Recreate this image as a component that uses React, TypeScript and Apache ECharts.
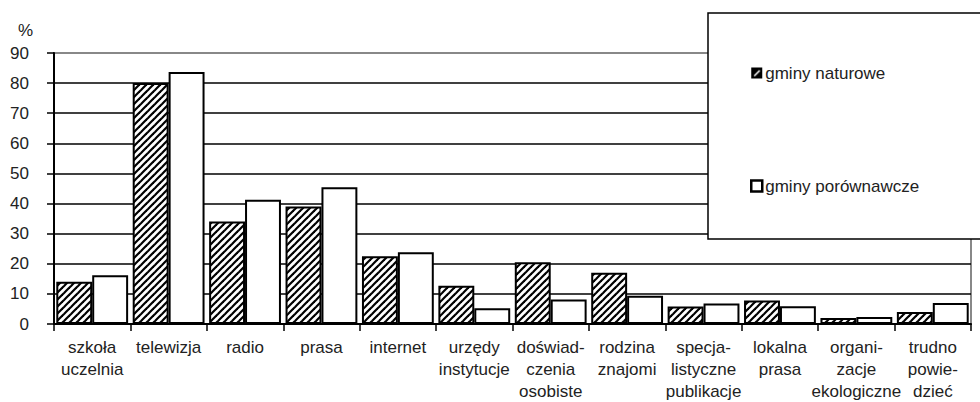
import React, { useEffect, useRef } from "react";
import * as echarts from "echarts";

const categories = [
  "szkoła\nuczelnia",
  "telewizja",
  "radio",
  "prasa",
  "internet",
  "urzędy\ninstytucje",
  "doświad-\nczenia\nosobiste",
  "rodzina\nznajomi",
  "specja-\nlistyczne\npublikacje",
  "lokalna\nprasa",
  "organi-\nzacje\nekologiczne",
  "trudno\npowie-\ndzieć",
];
const naturowe = [14, 80, 34, 39, 22.5, 12.7, 20.5, 17, 5.8, 7.8, 2, 4];
const porownawcze = [16.2, 83.7, 41.3, 45.4, 23.8, 5.2, 8.1, 9.4, 6.8, 5.9, 2.3, 7];
const seriesNames = ["gminy naturowe", "gminy porównawcze"];

const FONT = "'Liberation Sans', Arial, sans-serif";
const TEXT = "#222";

function makeHatch(): HTMLCanvasElement {
  const c = document.createElement("canvas");
  const s = 7;
  c.width = s;
  c.height = s;
  const ctx = c.getContext("2d")!;
  ctx.fillStyle = "#fff";
  ctx.fillRect(0, 0, s, s);
  ctx.strokeStyle = "#000";
  ctx.lineWidth = 2.2;
  for (const k of [0, s, 2 * s]) {
    ctx.beginPath();
    ctx.moveTo(-1, k + 1);
    ctx.lineTo(k + 1, -1);
    ctx.stroke();
  }
  return c;
}

function makeLegendIcon(): string {
  const c = document.createElement("canvas");
  const s = 11;
  c.width = s;
  c.height = s;
  const ctx = c.getContext("2d")!;
  ctx.fillStyle = "#000";
  ctx.fillRect(0, 0, s, s);
  ctx.strokeStyle = "#fff";
  ctx.lineWidth = 1.6;
  ctx.beginPath();
  ctx.moveTo(3, 8.5);
  ctx.lineTo(8.5, 3);
  ctx.stroke();
  return "image://" + c.toDataURL();
}

export default function App() {
  const ref = useRef<HTMLDivElement>(null);
  useEffect(() => {
    if (!ref.current) return;
    const chart = echarts.init(ref.current, undefined, { renderer: "svg" });
    const hatch = { image: makeHatch(), repeat: "repeat" } as any;
    chart.setOption({
      animation: false,
      backgroundColor: "#fff",
      textStyle: { fontFamily: FONT },
      grid: {
        left: 54,
        right: 9,
        top: 53,
        bottom: 77,
        show: true,
        borderColor: "#888",
        borderWidth: 2,
        backgroundColor: "transparent",
      },
      xAxis: {
        type: "category",
        data: categories,
        axisLine: { lineStyle: { color: "#000", width: 2 } },
        axisTick: { show: true, length: 7, lineStyle: { color: "#000", width: 1.5 } },
        axisLabel: {
          interval: 0,
          hideOverlap: false,
          margin: 12,
          color: TEXT,
          fontSize: 17,
          lineHeight: 22,
          fontFamily: FONT,
        },
        splitLine: { show: false },
      },
      yAxis: {
        type: "value",
        min: 0,
        max: 90,
        interval: 10,
        name: "%",
        nameLocation: "end",
        nameGap: 14,
        nameTextStyle: {
          align: "right",
          padding: [0, 21, 0, 0],
          color: TEXT,
          fontSize: 17,
          fontFamily: FONT,
        },
        axisLine: { show: true, lineStyle: { color: "#000", width: 2 } },
        axisTick: { show: true, length: 7, lineStyle: { color: "#000", width: 1.5 } },
        axisLabel: { margin: 25, color: TEXT, fontSize: 17, fontFamily: FONT },
        splitLine: {
          show: true,
          showMinLine: false,
          showMaxLine: false,
          lineStyle: { color: "#000", width: 1.5 },
        },
      },
      legend: {
        orient: "vertical",
        left: 745,
        top: 58,
        z: 20,
        itemWidth: 11,
        itemHeight: 11,
        itemGap: 93,
        textStyle: { color: TEXT, fontSize: 17, lineHeight: 20, fontFamily: FONT, padding: [0, 0, 0, -2] },
        data: [
          { name: seriesNames[0], icon: makeLegendIcon() },
          { name: seriesNames[1], icon: "rect", itemStyle: { color: "#fff", borderColor: "#000", borderWidth: 2.5 } },
        ],
      },
      graphic: [
        {
          type: "rect",
          z: 10,
          shape: { x: 708, y: 13, width: 320, height: 226 },
          style: { fill: "#fff", stroke: "#000", lineWidth: 1.5 },
        },
      ],
      series: [
        {
          name: seriesNames[0],
          type: "bar",
          data: naturowe,
          barGap: "0%",
          barCategoryGap: "6%",
          itemStyle: { color: hatch, borderColor: "#000", borderWidth: 2 },
        },
        {
          name: seriesNames[1],
          type: "bar",
          data: porownawcze,
          barGap: "0%",
          barCategoryGap: "6%",
          itemStyle: { color: "#fff", borderColor: "#000", borderWidth: 2 },
        },
      ],
    });
    return () => chart.dispose();
  }, []);
  return (
    <div
      ref={ref}
      style={{ position: "fixed", left: 0, top: 0, width: 980, height: 402 }}
    />
  );
}
